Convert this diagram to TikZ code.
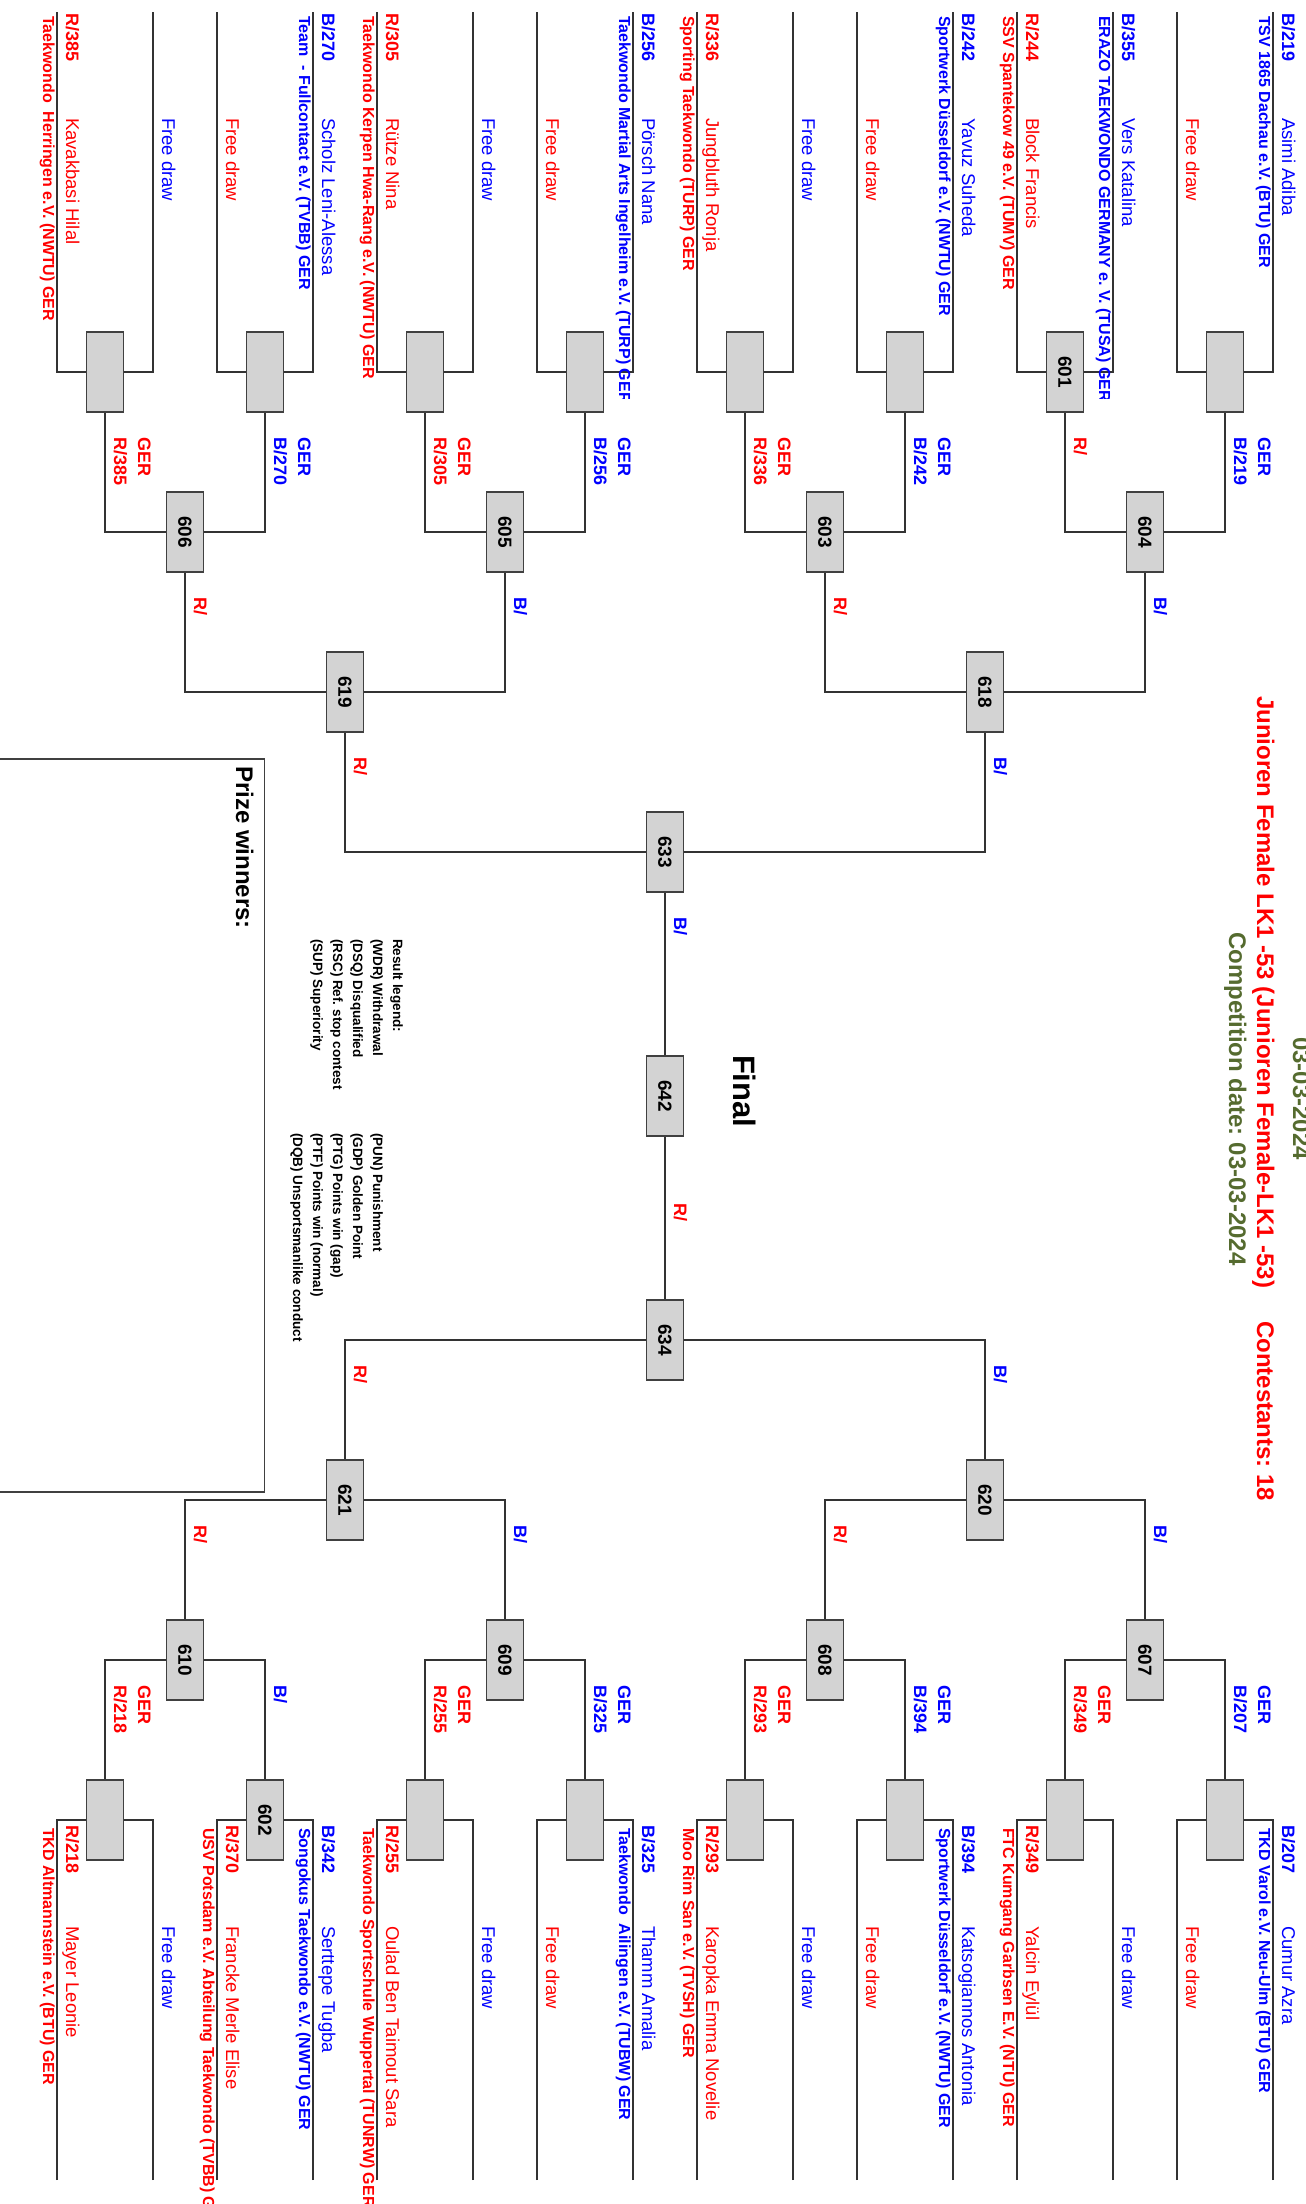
\documentclass[tikz,border=0pt]{standalone}
\usepackage{fontspec}
\setmainfont{Liberation Sans}
\usepackage{graphicx}
\frenchspacing
\definecolor{boxc}{HTML}{404040}
\definecolor{linec}{HTML}{333333}
\definecolor{boxfill}{HTML}{D3D3D3}
\definecolor{olive}{HTML}{556B2F}
\definecolor{rd}{HTML}{FF0000}
\definecolor{bl}{HTML}{0000FF}
\pgfdeclarelayer{bg}
\pgfsetlayers{bg,main}
\newcommand\idf{\fontsize{18}{20}\selectfont\bfseries}
\newcommand\nmf{\fontsize{18.5}{20}\selectfont}
\newcommand\clf{\fontsize{16}{18}\selectfont\bfseries}
\newcommand\lbf{\fontsize{18}{20}\selectfont\bfseries}
\newcommand\lgf{\fontsize{13.5}{15}\selectfont\bfseries}
\newcommand\bigf{\fontsize{24}{26}\selectfont\bfseries}
\newcommand\myslot[8]{%
  \node[rt,text=#5,font=\idf] (#1i) at (#2+9,#3) {#6};
  \node[rt,text=#5,font=\nmf] (#1n) at (#2+9,#4) {#7};
  \node[rt,text=#5,font=\clf] (#1c) at (#2-14,#3+3) {#8};}
\newcommand\myfree[4]{\node[rt,text=#4,font=\nmf] (#1) at (#2+9,#3) {Free draw};}
\newcommand\mywin[5]{\node[rt,text=#4,font=\lbf] (#1) at (#2+9,#3) {#5};}
\newcommand\mywing[5]{\node[rt,text=#4,font=\lbf] (#1) at (#2+9,#3) {#5};
  \node[rt,text=#4,font=\lbf] (#1g) at (#2+33,#3) {GER};}
\newcommand\mb[4]{\node[mbox] (#1) at (#2,#3) {\rotatebox{-90}{#4}};}
\begin{document}
\begin{tikzpicture}[x=1pt,y=-1pt,
  mbox/.style={draw=boxc,fill=boxfill,line width=1.5pt,minimum width=37pt,minimum height=80pt,inner sep=0pt,font=\fontsize{19}{19}\selectfont\bfseries},
  conn/.style={draw=linec,line width=1.2pt},
  rt/.style={rotate=-90,anchor=base west,inner sep=0pt,outer sep=0pt}]
\useasboundingbox (0,0) rectangle (1306,2204);
\clip (0,0) rectangle (1306,2204);
% boxes
\mb{t1}{105}{372}{}\mb{t2}{265}{372}{}\mb{t3}{425}{372}{}\mb{t4}{585}{372}{}
\mb{t5}{745}{372}{}\mb{t6}{905}{372}{}\mb{t7}{1065}{372}{601}\mb{t8}{1225}{372}{}
\mb{m606}{185}{532}{606}\mb{m605}{505}{532}{605}\mb{m603}{825}{532}{603}\mb{m604}{1145}{532}{604}
\mb{m619}{345}{692}{619}\mb{m618}{985}{692}{618}
\mb{m633}{665}{852}{633}\mb{m642}{665}{1096}{642}\mb{m634}{665}{1340}{634}
\mb{m621}{345}{1500}{621}\mb{m620}{985}{1500}{620}
\mb{m610}{185}{1660}{610}\mb{m609}{505}{1660}{609}\mb{m608}{825}{1660}{608}\mb{m607}{1145}{1660}{607}
\mb{b1}{105}{1820}{}\mb{b2}{265}{1820}{602}\mb{b3}{425}{1820}{}\mb{b4}{585}{1820}{}
\mb{b5}{745}{1820}{}\mb{b6}{905}{1820}{}\mb{b7}{1065}{1820}{}\mb{b8}{1225}{1820}{}
% prize box
\node[draw=boxc,line width=1.5pt,minimum width=280pt,minimum height=733pt,anchor=north east,inner sep=0pt] (prize) at (265,758) {};
\begin{pgfonlayer}{bg}
\fill[white] (0,0) rectangle (1306,2204);
\foreach \i/\c in {1/105,2/265,3/425,4/585,5/745,6/905,7/1065,8/1225}{
  \coordinate (tl\i) at (\c-48,12); \coordinate (tr\i) at (\c+48,12);
  \draw[conn] (tl\i) |- (t\i.west); \draw[conn] (tr\i) |- (t\i.east);
  \coordinate (bl\i) at (\c-48,2180); \coordinate (br\i) at (\c+48,2180);
  \draw[conn] (bl\i) |- (b\i.west); \draw[conn] (br\i) |- (b\i.east);}
\draw[conn] (t1.south) |- (m606.west); \draw[conn] (t2.south) |- (m606.east);
\draw[conn] (t3.south) |- (m605.west); \draw[conn] (t4.south) |- (m605.east);
\draw[conn] (t5.south) |- (m603.west); \draw[conn] (t6.south) |- (m603.east);
\draw[conn] (t7.south) |- (m604.west); \draw[conn] (t8.south) |- (m604.east);
\draw[conn] (m606.south) |- (m619.west); \draw[conn] (m605.south) |- (m619.east);
\draw[conn] (m603.south) |- (m618.west); \draw[conn] (m604.south) |- (m618.east);
\draw[conn] (m619.south) |- (m633.west); \draw[conn] (m618.south) |- (m633.east);
\draw[conn] (m633.south) -- (m642.north); \draw[conn] (m642.south) -- (m634.north);
\draw[conn] (m621.north) |- (m634.west); \draw[conn] (m620.north) |- (m634.east);
\draw[conn] (m610.north) |- (m621.west); \draw[conn] (m609.north) |- (m621.east);
\draw[conn] (m608.north) |- (m620.west); \draw[conn] (m607.north) |- (m620.east);
\draw[conn] (b1.north) |- (m610.west); \draw[conn] (b2.north) |- (m610.east);
\draw[conn] (b3.north) |- (m609.west); \draw[conn] (b4.north) |- (m609.east);
\draw[conn] (b5.north) |- (m608.west); \draw[conn] (b6.north) |- (m608.east);
\draw[conn] (b7.north) |- (m607.west); \draw[conn] (b8.north) |- (m607.east);
\end{pgfonlayer}
% top slot texts
\begin{scope}
\clip (0,0) rectangle (1306,398);
\myslot{ta1}{57}{13}{118}{rd}{R/385}{Kavakbasi Hilal}{Taekwondo\ \ Herringen e.V. (NWTU) GER}
\myfree{tb1}{153}{118}{bl}
\myfree{ta2}{217}{118}{rd}
\myslot{tb2}{313}{13}{118}{bl}{B/270}{Scholz Leni-Alessa}{Team\ \ - Fullcontact e.V. (TVBB) GER}
\myslot{ta3}{377}{13}{118}{rd}{R/305}{Rütze Nina}{Taekwondo Kerpen Hwa-Rang e.V. (NWTU) GER}
\myfree{tb3}{473}{118}{bl}
\myfree{ta4}{537}{118}{rd}
\myslot{tb4}{633}{13}{118}{bl}{B/256}{Pörsch Nana}{Taekwondo Martial Arts Ingelheim e.V. (TURP) GER}
\myslot{ta5}{697}{13}{118}{rd}{R/336}{Jungbluth Ronja}{Sporting Taekwondo (TURP) GER}
\myfree{tb5}{793}{118}{bl}
\myfree{ta6}{857}{118}{rd}
\myslot{tb6}{953}{13}{118}{bl}{B/242}{Yavuz Suheda}{Sportwerk Düsseldorf e.V. (NWTU) GER}
\myslot{ta7}{1017}{13}{118}{rd}{R/244}{Block Francis}{SSV Spantekow 49 e.V. (TUMV) GER}
\myslot{tb7}{1113}{13}{118}{bl}{B/355}{Vers Katalina}{ERAZO TAEKWONDO GERMANY e. V. (TUSA) GER}
\myfree{ta8}{1177}{118}{rd}
\myslot{tb8}{1273}{13}{118}{bl}{B/219}{Asimi Adiba}{TSV 1865 Dachau e.V. (BTU) GER}
\end{scope}
% bottom slot texts
\myslot{ba1}{57}{1825}{1926}{rd}{R/218}{Mayer Leonie}{TKD Altmannstein e.V. (BTU) GER}
\myfree{bb1}{153}{1926}{bl}
\myslot{ba2}{217}{1825}{1926}{rd}{R/370}{Francke Merle Elise}{USV Potsdam e.V. Abteilung Taekwondo (TVBB) GER}
\myslot{bb2}{313}{1825}{1926}{bl}{B/342}{Serttepe Tugba}{Songokus Taekwondo e.V. (NWTU) GER}
\myslot{ba3}{377}{1825}{1926}{rd}{R/255}{Oulad Ben Taimout Sara}{Taekwondo Sportschule Wuppertal (TUNRW) GER}
\myfree{bb3}{473}{1926}{bl}
\myfree{ba4}{537}{1926}{rd}
\myslot{bb4}{633}{1825}{1926}{bl}{B/325}{Thamm Amalia}{Taekwondo\ \ Ailingen e.V. (TUBW) GER}
\myslot{ba5}{697}{1825}{1926}{rd}{R/293}{Karopka Emma Novelie}{Moo Rim San e.V. (TVSH) GER}
\myfree{bb5}{793}{1926}{bl}
\myfree{ba6}{857}{1926}{rd}
\myslot{bb6}{953}{1825}{1926}{bl}{B/394}{Katsogiannos Antonia}{Sportwerk Düsseldorf e.V. (NWTU) GER}
\myslot{ba7}{1017}{1825}{1926}{rd}{R/349}{Yalcin Eylül}{FTC Kumgang Garbsen E.V. (NTU) GER}
\myfree{bb7}{1113}{1926}{bl}
\myfree{ba8}{1177}{1926}{rd}
\myslot{bb8}{1273}{1825}{1926}{bl}{B/207}{Cumur Azra}{TKD Varol e.V. Neu-Ulm (BTU) GER}
% winner labels
\mywing{w1}{105}{437}{rd}{R/385}\mywing{w2}{265}{437}{bl}{B/270}
\mywing{w3}{425}{437}{rd}{R/305}\mywing{w4}{585}{437}{bl}{B/256}
\mywing{w5}{745}{437}{rd}{R/336}\mywing{w6}{905}{437}{bl}{B/242}
\mywin{w7}{1065}{437}{rd}{R/}\mywing{w8}{1225}{437}{bl}{B/219}
\mywin{x1}{185}{597}{rd}{R/}\mywin{x2}{505}{597}{bl}{B/}
\mywin{x3}{825}{597}{rd}{R/}\mywin{x4}{1145}{597}{bl}{B/}
\mywin{y1}{345}{757}{rd}{R/}\mywin{y2}{985}{757}{bl}{B/}
\mywin{z1}{665}{917}{bl}{B/}\mywin{z2}{665}{1203}{rd}{R/}
\mywin{u1}{345}{1365}{rd}{R/}\mywin{u2}{985}{1365}{bl}{B/}
\mywin{v1}{185}{1525}{rd}{R/}\mywin{v2}{505}{1525}{bl}{B/}
\mywin{v3}{825}{1525}{rd}{R/}\mywin{v4}{1145}{1525}{bl}{B/}
\mywing{s1}{105}{1685}{rd}{R/218}\mywin{s2}{265}{1685}{bl}{B/}
\mywing{s3}{425}{1685}{rd}{R/255}\mywing{s4}{585}{1685}{bl}{B/325}
\mywing{s5}{745}{1685}{rd}{R/293}\mywing{s6}{905}{1685}{bl}{B/394}
\mywing{s7}{1065}{1685}{rd}{R/349}\mywing{s8}{1225}{1685}{bl}{B/207}
% titles
\node[rt,text=rd,font=\bigf] (title) at (1257,696) {Junioren Female LK1 -53 (Junioren Female-LK1 -53)};
\node[rt,text=rd,font=\bigf] (cont) at (1257,1321) {Contestants: 18};
\node[rt,text=olive,font=\bigf] (cdate) at (1229,932) {Competition date: 03-03-2024};
\node[rt,text=olive,font=\bigf] (tdate) at (1293,1037) {03-03-2024};
\node[rt,font=\fontsize{31}{33}\selectfont\bfseries] (final) at (733,1055) {Final};
\node[rt,font=\bigf] (prizet) at (236,766) {Prize winners:};
% legend
\node[rt,font=\lgf] (lg0) at (393,939) {Result legend:};
\node[rt,font=\lgf] (lg1) at (373,939) {(WDR) Withdrawal};
\node[rt,font=\lgf] (lg2) at (353,939) {(DSQ) Disqualified};
\node[rt,font=\lgf] (lg3) at (333,939) {(RSC) Ref. stop contest};
\node[rt,font=\lgf] (lg4) at (313,939) {(SUP) Superiority};
\node[rt,font=\lgf] (lg5) at (373,1133) {(PUN) Punishment};
\node[rt,font=\lgf] (lg6) at (353,1133) {(GDP) Golden Point};
\node[rt,font=\lgf] (lg7) at (333,1133) {(PTG) Points win (gap)};
\node[rt,font=\lgf] (lg8) at (313,1133) {(PTF) Points win (normal)};
\node[rt,font=\lgf] (lg9) at (293,1133) {(DQB) Unsportsmanlike conduct};
\end{tikzpicture}
\end{document}
